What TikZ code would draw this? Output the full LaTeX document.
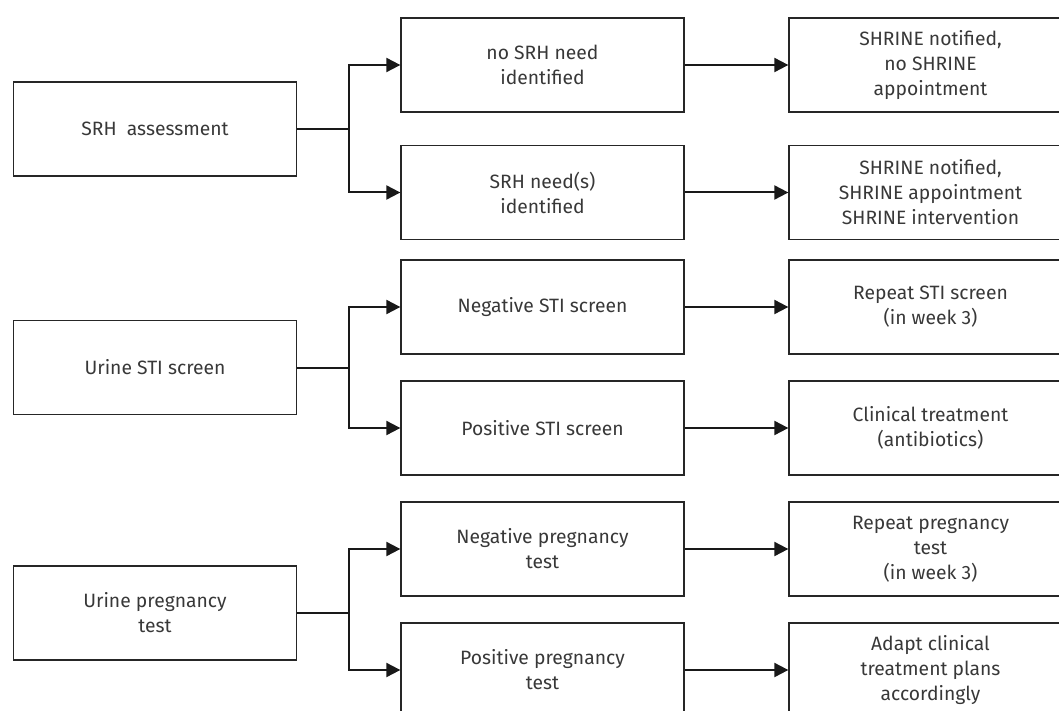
\documentclass[tikz,border=0pt]{standalone}
\usepackage{fontspec}
\setmainfont{Fira Sans}
\usetikzlibrary{arrows.meta,positioning}

\begin{document}
\begin{tikzpicture}[x=1pt, y=-1pt,
    stage/.style={draw=black!85, line width=1.3pt, minimum width=283pt, minimum height=94pt,
      inner sep=0pt, align=center, text=black!78, font=\fontsize{19.3}{25}\selectfont},
    trunk/.style={draw=black!90, line width=2pt},
    link/.style={trunk, -{Triangle[length=14pt,width=14pt]}}]
  % Fix the page to the reference size
  \useasboundingbox (0,0) rectangle (1059,711);

  % Define the column positions
  \newcommand\ColA{155}
  \newcommand\ColB{542.5}
  \newcommand\ColC{930.5}

  % Tests
  \node[stage] (srh)  at (\ColA,129) {SRH\ \ assessment};
  \node[stage] (sti)  at (\ColA,367.5) {Urine STI screen};
  \node[stage] (preg) at (\ColA,613) {Urine pregnancy\\test};

  % Results
  \node[stage] (srhno)   at (\ColB,65)    {no SRH need\\identified};
  \node[stage] (srhyes)  at (\ColB,192.5) {SRH need(s)\\identified};
  \node[stage] (stineg)  at (\ColB,307)   {Negative STI screen};
  \node[stage] (stipos)  at (\ColB,428)   {Positive STI screen};
  \node[stage] (pregneg) at (\ColB,549)   {Negative pregnancy\\test};
  \node[stage] (pregpos) at (\ColB,670)   {Positive pregnancy\\test};

  % Actions
  \node[stage] (srhnoact)   at (\ColC,65)    {SHRINE notified,\\no SHRINE\\appointment};
  \node[stage] (srhyesact)  at (\ColC,192.5) {SHRINE notified,\\SHRINE appointment\\SHRINE intervention};
  \node[stage] (stinegact)  at (\ColC,307)   {Repeat STI screen\\(in week 3)};
  \node[stage] (stiposact)  at (\ColC,428)   {Clinical treatment\\(antibiotics)};
  \node[stage] (pregnegact) at (\ColC,549)   {Repeat pregnancy\\test\\(in week 3)};
  \node[stage] (pregposact) at (\ColC,670)   {Adapt clinical\\treatment plans\\accordingly};

  % Split each test into its two results
  \foreach \t/\n/\p in {srh/srhno/srhyes, sti/stineg/stipos, preg/pregneg/pregpos} {
    \draw[trunk] (\t.east) -- ++(52,0) coordinate (\t split);
    \draw[link] (\t split) |- (\n.west);
    \draw[link] (\t split) |- (\p.west);
  }

  % Connect each result to its action
  \foreach \r in {srhno, srhyes, stineg, stipos, pregneg, pregpos} {
    \draw[link] (\r.east) -- (\r act.west);
  }
\end{tikzpicture}
\end{document}
